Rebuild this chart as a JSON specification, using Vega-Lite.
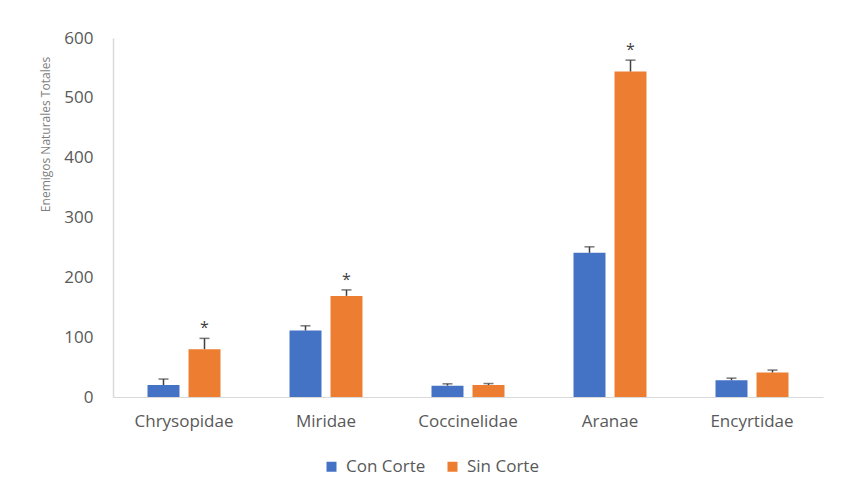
{
  "$schema": "https://vega.github.io/schema/vega-lite/v6.json",
  "width": 710,
  "height": 359,
  "autosize": {"type": "none"},
  "padding": {"left": 113, "top": 38, "right": 19, "bottom": 98},
  "background": "white",
  "config": {"view": {"stroke": null}, "font": "Open Sans"},
  "data": {
    "values": [
      {"family": "Chrysopidae", "treatment": "Con Corte", "mean": 20, "upper": 30, "sig": ""},
      {"family": "Chrysopidae", "treatment": "Sin Corte", "mean": 80, "upper": 98, "sig": "*"},
      {"family": "Miridae", "treatment": "Con Corte", "mean": 111, "upper": 119, "sig": ""},
      {"family": "Miridae", "treatment": "Sin Corte", "mean": 169, "upper": 179, "sig": "*"},
      {"family": "Coccinelidae", "treatment": "Con Corte", "mean": 19, "upper": 22, "sig": ""},
      {"family": "Coccinelidae", "treatment": "Sin Corte", "mean": 20, "upper": 22.5, "sig": ""},
      {"family": "Aranae", "treatment": "Con Corte", "mean": 241, "upper": 251, "sig": ""},
      {"family": "Aranae", "treatment": "Sin Corte", "mean": 544, "upper": 563, "sig": "*"},
      {"family": "Encyrtidae", "treatment": "Con Corte", "mean": 28, "upper": 31.5, "sig": ""},
      {"family": "Encyrtidae", "treatment": "Sin Corte", "mean": 41, "upper": 45, "sig": ""}
    ]
  },
  "encoding": {
    "x": {
      "field": "family",
      "type": "nominal",
      "sort": null,
      "scale": {"paddingInner": 0.486, "paddingOuter": 0.243},
      "axis": {
        "title": null,
        "labelAngle": 0,
        "labelFontSize": 17,
        "labelColor": "#595959",
        "labelPadding": 16,
        "ticks": false,
        "domainColor": "#D9D9D9",
        "domainWidth": 1
      }
    },
    "xOffset": {
      "field": "treatment",
      "type": "nominal",
      "scale": {"paddingInner": 0.22, "paddingOuter": 0}
    }
  },
  "layer": [
    {
      "mark": {"type": "bar"},
      "encoding": {
        "y": {
          "field": "mean",
          "type": "quantitative",
          "scale": {"domain": [0, 600]},
          "axis": {
            "title": "Enemigos Naturales Totales",
            "titleFontSize": 12,
            "titleFontWeight": "normal",
            "titleColor": "#7F7F7F",
            "titleX": -68,
            "titleY": 96,
            "titleAlign": "center",
            "titleBaseline": "middle",
            "titleAngle": -90,
            "values": [0, 100, 200, 300, 400, 500, 600],
            "labelFontSize": 17,
            "labelColor": "#595959",
            "labelPadding": 20,
            "ticks": false,
            "grid": false,
            "domainColor": "#D9D9D9",
            "domainWidth": 1.5
          }
        },
        "color": {
          "field": "treatment",
          "type": "nominal",
          "scale": {"domain": ["Con Corte", "Sin Corte"], "range": ["#4472C4", "#ED7D31"]},
          "legend": {
            "orient": "none",
            "legendX": 210,
            "legendY": 420,
            "direction": "horizontal",
            "title": null,
            "symbolType": "square",
            "symbolSize": 100,
            "symbolStrokeWidth": 0,
            "labelFontSize": 17,
            "labelColor": "#595959",
            "labelOffset": 6,
            "columnPadding": 18
          }
        }
      }
    },
    {
      "mark": {"type": "rule", "color": "#404040", "strokeWidth": 1.5},
      "encoding": {
        "y": {"field": "mean", "type": "quantitative"},
        "y2": {"field": "upper"}
      }
    },
    {
      "mark": {"type": "tick", "color": "#404040", "thickness": 1.5, "size": 10, "orient": "horizontal"},
      "encoding": {
        "y": {"field": "upper", "type": "quantitative"}
      }
    },
    {
      "transform": [{"filter": "datum.sig != ''"}],
      "mark": {"type": "text", "fontSize": 16, "color": "#404040", "baseline": "middle", "dy": -10},
      "encoding": {
        "y": {"field": "upper", "type": "quantitative"},
        "text": {"field": "sig"}
      }
    }
  ]
}
